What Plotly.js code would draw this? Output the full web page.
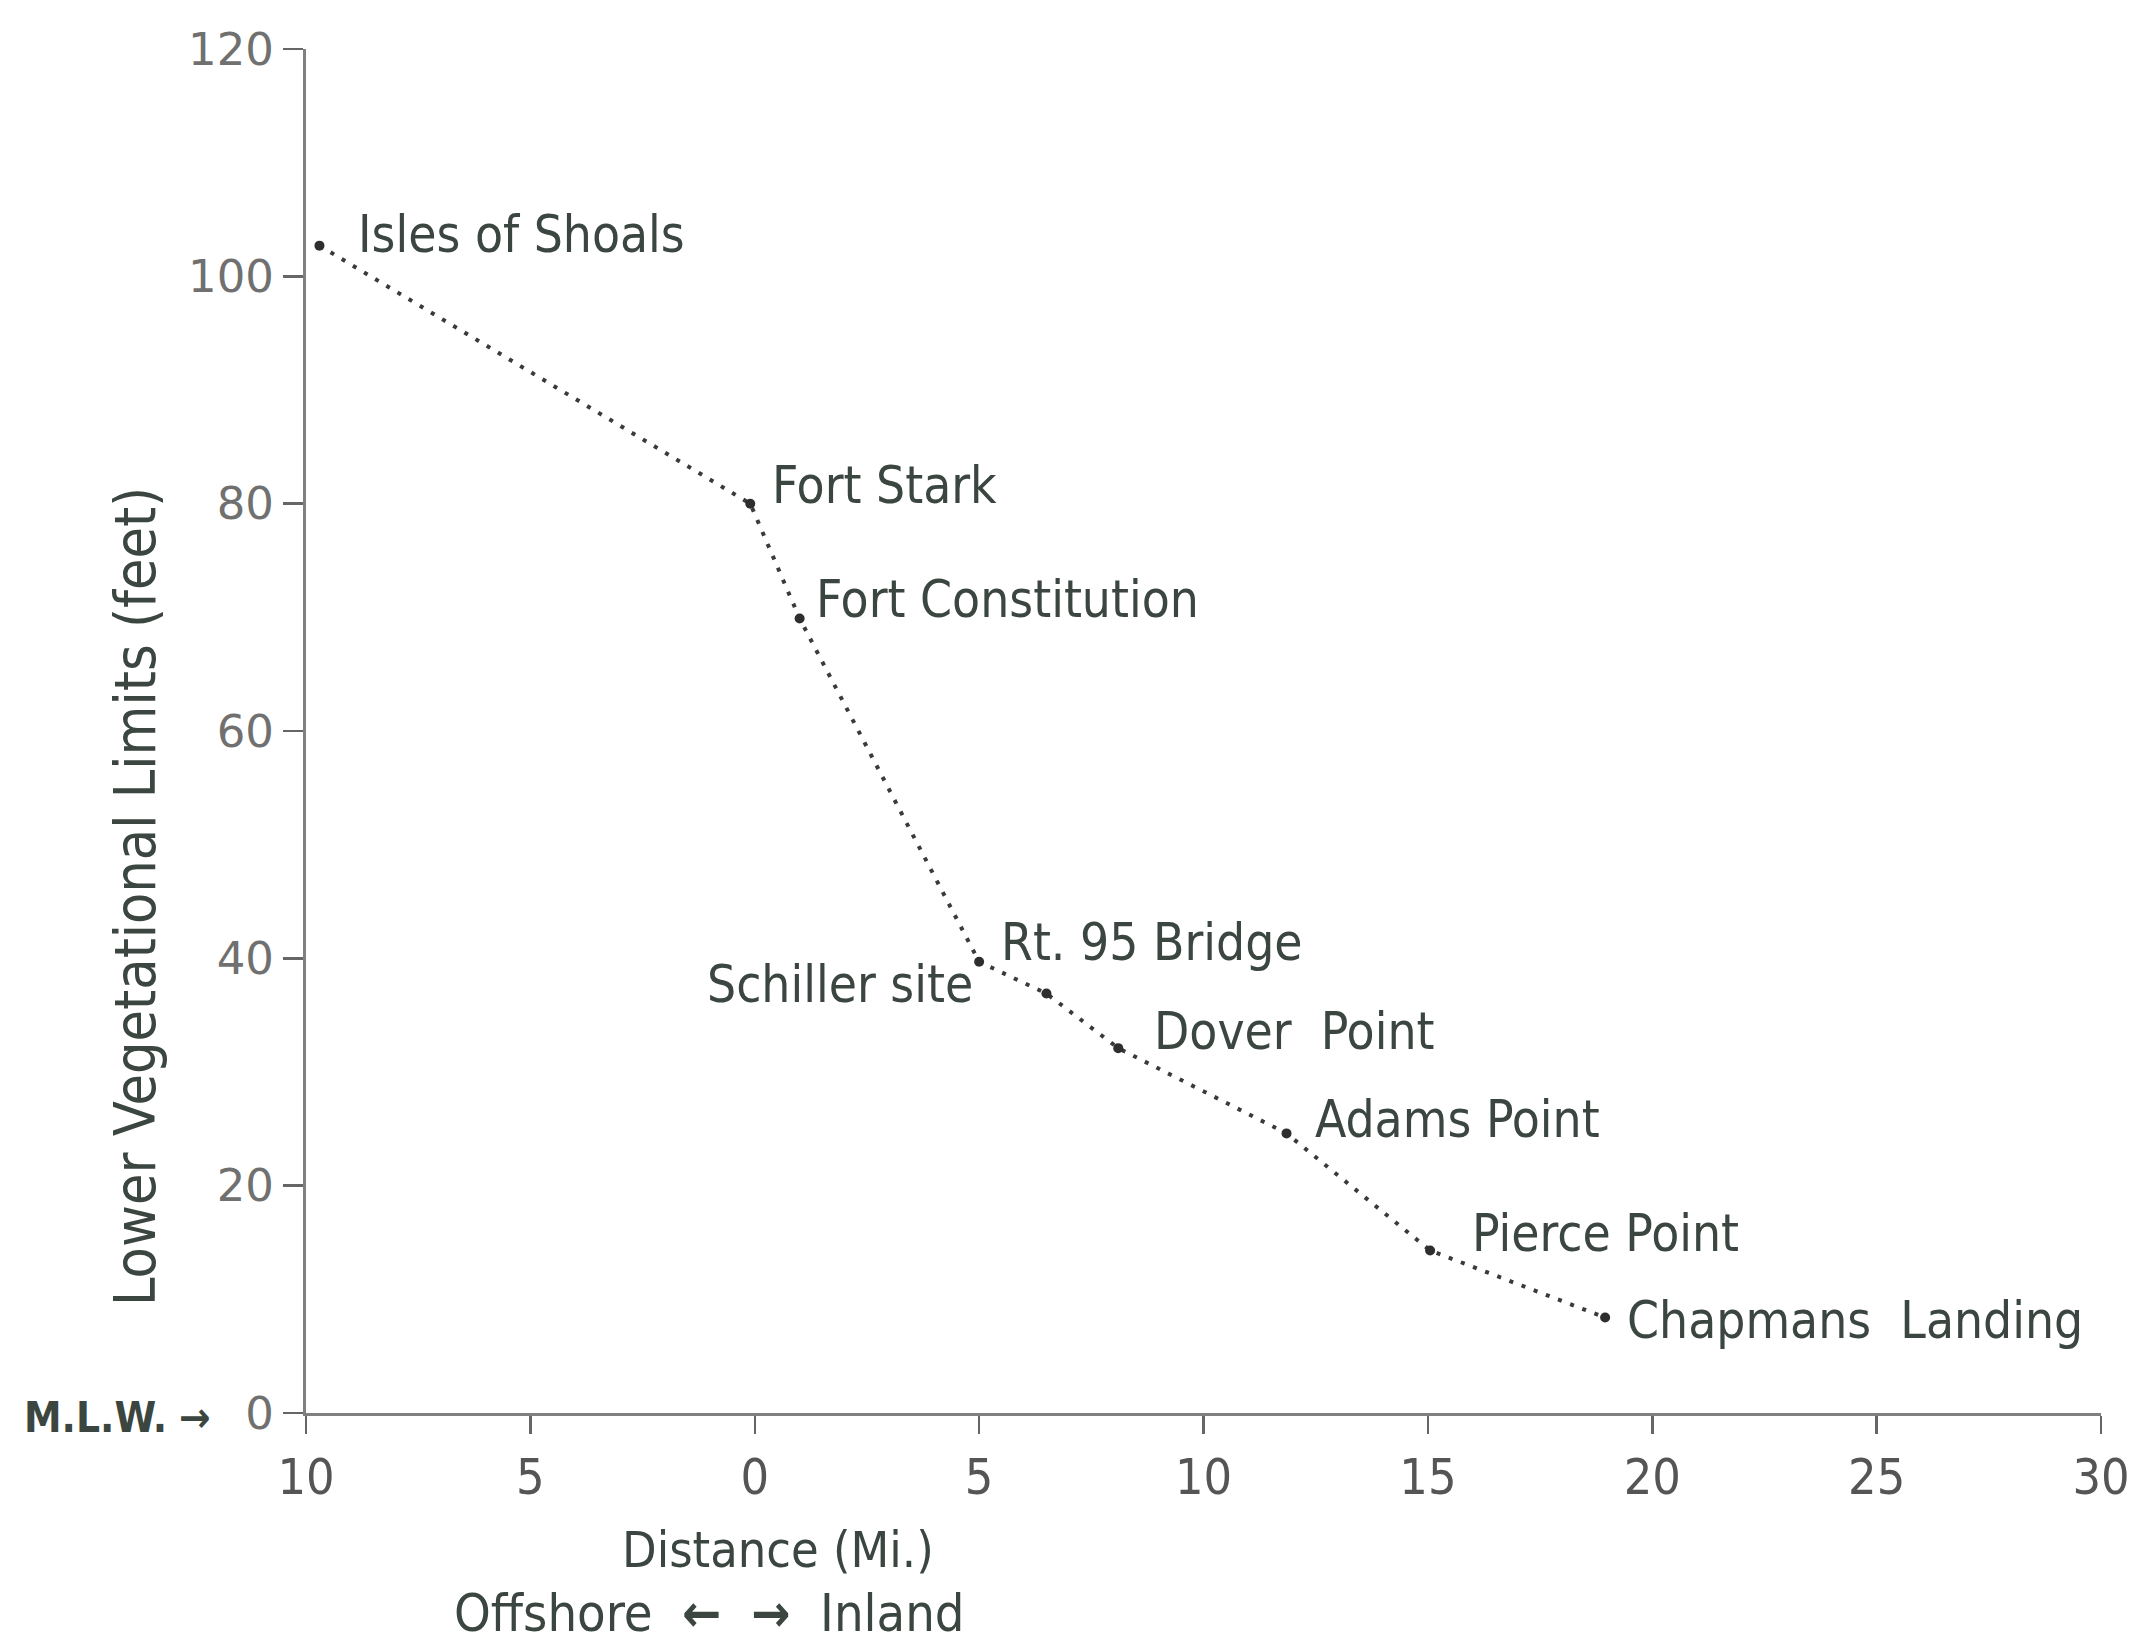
<!DOCTYPE html>
<html>
<head>
<meta charset="utf-8">
<script src="https://cdn.plot.ly/plotly-3.0.1.min.js"></script>
<style>
  html, body { margin: 0; padding: 0; background: #ffffff; }
  #chart { width: 2156px; height: 1646px; }
</style>
</head>
<body>
<div id="chart"></div>
<script>
// ---- data ----
const sites = ["Isles of Shoals", "Fort Stark", "Fort Constitution", "Rt. 95 Bridge",
               "Schiller site", "Dover\u00a0\u00a0Point", "Adams Point", "Pierce Point",
               "Chapmans\u00a0\u00a0Landing"];
const distanceMi = [-9.7, -0.1, 1.0, 5.0, 6.5, 8.1, 11.85, 15.05, 18.95];
const limitFt = [102.7, 80.0, 69.9, 39.7, 36.9, 32.1, 24.6, 14.3, 8.4];
const xTickVals = [-10, -5, 0, 5, 10, 15, 20, 25, 30];
const xTickText = ["10", "5", "0", "5", "10", "15", "20", "25", "30"];
const yTickVals = [0, 20, 40, 60, 80, 100, 120];
const yTickText = ["0", "20", "40", "60", "80", "100", "120"];

// ---- styling ----
const narrow = "'Liberation Sans Narrow', 'DejaVu Sans Condensed', 'Roboto Condensed', Lato, sans-serif";
const wide = "'DejaVu Sans', Lato, sans-serif";
const textColor = "#3c4641";
// label placement relative to each point (pixels)
const labelPlace = [
  {anchor: "left", dx: 37, dy: 11},
  {anchor: "left", dx: 20, dy: 18},
  {anchor: "left", dx: 14, dy: 19},
  {anchor: "left", dx: 20, dy: 19},
  {anchor: "right", dx: -71, dy: 9},
  {anchor: "left", dx: 34, dy: 17},
  {anchor: "left", dx: 26, dy: 14},
  {anchor: "left", dx: 40, dy: 17},
  {anchor: "left", dx: 20, dy: -3}
];

const trace = {
  type: "scatter",
  mode: "lines+markers",
  x: distanceMi,
  y: limitFt,
  line: {color: "#3a3a3a", width: 4, dash: "4px,9px"},
  marker: {color: "#2e2e2e", size: 10},
  hoverinfo: "skip",
  cliponaxis: false
};

const annotations = sites.map((s, i) => ({
  x: distanceMi[i], y: limitFt[i], xref: "x", yref: "y",
  text: s, showarrow: false,
  xanchor: labelPlace[i].anchor, yanchor: "middle",
  xshift: labelPlace[i].dx, yshift: labelPlace[i].dy,
  font: {family: narrow, size: 51, color: textColor}
}));

annotations.push(
  {xref: "paper", yref: "paper", x: 0.263, y: -0.1004, text: "Distance (Mi.)",
   showarrow: false, xanchor: "center", yanchor: "middle",
   font: {family: narrow, size: 50, color: textColor}},
  {xref: "paper", yref: "paper", x: 0.225, y: -0.1465,
   text: "Offshore\u00a0 <b>\u2190</b>\u00a0 <b>\u2192</b>\u00a0 Inland",
   showarrow: false, xanchor: "center", yanchor: "middle",
   font: {family: narrow, size: 52, color: textColor}},
  {xref: "paper", yref: "paper", x: -0.0518, y: 0, yshift: -4, text: "<b>M.L.W.</b> <b>\u2192</b>",
   showarrow: false, xanchor: "right", yanchor: "middle",
   font: {family: narrow, size: 42, color: textColor}},
  {xref: "paper", yref: "paper", x: -0.0953, y: 0.379, text: "Lower Vegetational Limits (feet)",
   textangle: -90, showarrow: false, xanchor: "center", yanchor: "middle",
   font: {family: narrow, size: 57, color: textColor}}
);

const layout = {
  width: 2156, height: 1646,
  margin: {l: 306, r: 55, t: 49, b: 233},
  paper_bgcolor: "#ffffff", plot_bgcolor: "#ffffff",
  showlegend: false,
  xaxis: {
    range: [-10, 30], showgrid: false, zeroline: false,
    showline: true, linecolor: "#808080", linewidth: 3,
    ticks: "outside", ticklen: 18, tickwidth: 2.5, tickcolor: "#666",
    tickvals: xTickVals, ticktext: xTickText,
    tickfont: {family: narrow, size: 50, color: "#555"}
  },
  yaxis: {
    range: [0, 120], showgrid: false, zeroline: false,
    showline: true, linecolor: "#808080", linewidth: 3,
    ticks: "outside", ticklen: 20, tickwidth: 2.5, tickcolor: "#666",
    tickvals: yTickVals, ticktext: yTickText,
    tickfont: {family: wide, size: 45, color: "#707070"}
  },
  annotations: annotations
};

Plotly.newPlot("chart", [trace], layout, {staticPlot: true, displayModeBar: false});
</script>
</body>
</html>
